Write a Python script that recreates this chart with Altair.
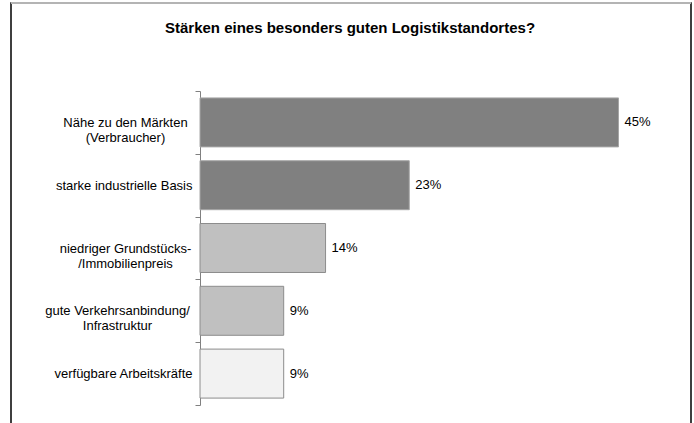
import altair as alt
import pandas as pd

TITLE = "Stärken eines besonders guten Logistikstandortes?"
categories = [
    "Nähe zu den Märkten|(Verbraucher)",
    "starke industrielle Basis",
    "niedriger Grundstücks-|/Immobilienpreis",
    "gute Verkehrsanbindung/|Infrastruktur",
    "verfügbare Arbeitskräfte",
]
values = [45.0, 22.5, 13.5, 9.0, 9.0]
fills = ["#808080", "#808080", "#c0c0c0", "#c0c0c0", "#f2f2f2"]
strokes = ["#a6a6a6", "#a6a6a6", "#8c8c8c", "#8c8c8c", "#8c8c8c"]

df = pd.DataFrame({"cat": categories, "pct": values})

FONT = "Liberation Sans"
W, H = 465, 314


def y_axis(expr, align, pad, ticks):
    return alt.Axis(
        title=None,
        orient="left",
        labelExpr=expr,
        labelFont=FONT,
        labelFontSize=13,
        labelColor="#000000",
        labelAlign=align,
        labelPadding=pad,
        labelLineHeight=15,
        tickBand="extent",
        ticks=ticks,
        tickSize=5,
        tickColor="#808080",
        domain=ticks,
        domainColor="#808080",
        grid=False,
    )


single = "indexof(datum.label, '|') < 0 ? datum.label : ''"
multi_a = "indexof(datum.label, '|') >= 0 && indexof(datum.label, 'gute') != 0 ? split(datum.label, '|') : ''"
multi_b = "indexof(datum.label, 'gute') == 0 ? split(datum.label, '|') : ''"

yscale = alt.Scale(paddingInner=0, paddingOuter=0)
x_enc = alt.X("pct:Q", scale=alt.Scale(domain=[0, 50]), axis=None)

base = alt.Chart(df)

bars = base.mark_bar(strokeWidth=1, height=alt.RelativeBandSize(0.78)).encode(
    x=x_enc,
    y=alt.Y("cat:N", sort=None, scale=yscale, axis=y_axis(single, "right", 3, True)),
    fill=alt.Fill("cat:N", sort=None, scale=alt.Scale(domain=categories, range=fills), legend=None),
    stroke=alt.Stroke("cat:N", sort=None, scale=alt.Scale(domain=categories, range=strokes), legend=None),
)

axis_a = base.mark_bar(opacity=0, height=alt.RelativeBandSize(0.78)).encode(
    x=x_enc,
    y=alt.Y("cat:N", sort=None, scale=yscale, axis=y_axis(multi_a, "center", 75, False)),
)

axis_b = base.mark_bar(opacity=0, height=alt.RelativeBandSize(0.78)).encode(
    x=x_enc,
    y=alt.Y("cat:N", sort=None, scale=yscale, axis=y_axis(multi_b, "center", 83, False)),
)

labels = base.transform_calculate(
    lab="format(datum.pct, '.0f') + '%'"
).mark_text(align="left", dx=6, font=FONT, fontSize=13, color="#000000").encode(
    x=x_enc,
    y=alt.Y("cat:N", sort=None, scale=yscale, axis=None),
    text="lab:N",
)

title = alt.Chart(alt.Data(values=[{"t": TITLE}])).mark_text(
    font=FONT, fontSize=15, fontWeight="bold", align="center", baseline="middle", color="#000000"
).encode(x=alt.value(150), y=alt.value(-63), text="t:N")

frame = alt.Chart(alt.Data(values=[{"a": 1}])).mark_rect(
    fillOpacity=0, stroke="#000000", strokeWidth=1.5
).encode(x=alt.value(-189), x2=alt.value(491), y=alt.value(-88), y2=alt.value(H + 60))

frame_top = alt.Chart(alt.Data(values=[{"a": 1}])).mark_rule(
    color="#b4b4b4", strokeWidth=2
).encode(x=alt.value(-189), x2=alt.value(491), y=alt.value(-88))

chart = alt.layer(frame, frame_top, bars, axis_a, axis_b, labels, title).resolve_axis(
    y="independent"
).properties(
    width=W,
    height=H,
    autosize=alt.AutoSizeParams(type="none"),
    padding={"left": 200, "top": 91, "right": 29, "bottom": 18},
    background="#ffffff",
).configure_view(stroke=None)

chart.save("out.html", embed_options={"renderer": "svg", "actions": False})
